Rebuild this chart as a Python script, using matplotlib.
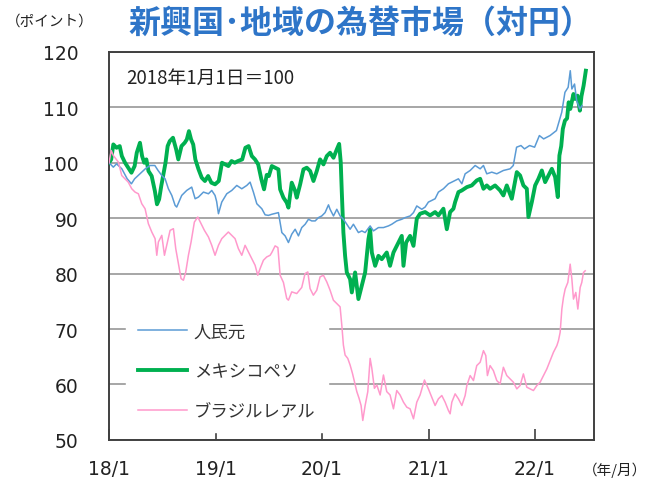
import numpy as np
import matplotlib
matplotlib.use("Agg")
import matplotlib.pyplot as plt

plt.rcParams['font.family'] = ['Noto Sans CJK JP', 'DejaVu Sans']

# 人民元 (year, index)
cny_t = [2018.00, 2018.04, 2018.07, 2018.12, 2018.17, 2018.21, 2018.24, 2018.29, 2018.34, 2018.385,
         2018.43, 2018.46, 2018.495, 2018.526, 2018.557, 2018.589, 2018.62, 2018.635, 2018.682, 2018.729,
         2018.776, 2018.808, 2018.839, 2018.886, 2018.933, 2018.964, 2018.995, 2019.01, 2019.027, 2019.058,
         2019.105, 2019.152, 2019.199, 2019.246, 2019.293, 2019.324, 2019.355, 2019.387, 2019.434, 2019.465,
         2019.496, 2019.528, 2019.59, 2019.622, 2019.653, 2019.684, 2019.715, 2019.747, 2019.778, 2019.809,
         2019.841, 2019.872, 2019.903, 2019.935, 2019.966, 2019.997, 2020.028, 2020.06, 2020.075, 2020.107,
         2020.138, 2020.169, 2020.2, 2020.232, 2020.263, 2020.294, 2020.341, 2020.373, 2020.404, 2020.451,
         2020.482, 2020.529, 2020.576, 2020.623, 2020.654, 2020.701, 2020.748, 2020.78, 2020.827, 2020.858,
         2020.889, 2020.936, 2020.967, 2020.998, 2021.03, 2021.061, 2021.092, 2021.139, 2021.186, 2021.218,
         2021.249, 2021.28, 2021.312, 2021.343, 2021.39, 2021.437, 2021.484, 2021.515, 2021.546, 2021.593,
         2021.64, 2021.702, 2021.765, 2021.795, 2021.826, 2021.867, 2021.90, 2021.948, 2021.995, 2022.04,
         2022.08, 2022.14, 2022.20, 2022.25, 2022.28, 2022.31, 2022.33, 2022.345, 2022.37, 2022.39,
         2022.42, 2022.44]
cny_v = [100.0, 99.2, 99.8, 98.9, 97.1, 96.2, 97.1, 98.0, 98.9, 99.5,
         99.5, 98.6, 97.7, 97.1, 95.3, 94.1, 92.3, 92.0, 94.1, 95.0,
         95.6, 93.5, 93.8, 94.7, 94.4, 95.0, 94.1, 93.0, 90.8, 92.9,
         94.4, 95.0, 95.9, 95.3, 95.9, 96.5, 94.7, 92.6, 91.7, 90.6,
         90.5, 90.7, 91.0, 87.4, 86.8, 85.6, 87.1, 88.0, 86.8, 88.3,
         88.9, 89.8, 89.5, 89.5, 90.1, 90.4, 91.0, 92.4, 91.6, 90.4,
         91.6, 90.4, 89.8, 88.9, 88.0, 88.9, 87.4, 87.7, 87.4, 88.6,
         87.7, 88.3, 88.3, 88.6, 88.9, 89.5, 89.8, 90.1, 90.4, 91.0,
         92.2, 91.6, 92.0, 92.9, 93.2, 93.5, 94.7, 95.3, 96.2, 96.5,
         96.8, 97.1, 96.2, 98.0, 98.6, 99.5, 98.9, 99.5, 98.0, 98.3,
         98.0, 98.6, 98.9, 99.5, 102.8, 103.1, 102.5, 103.1, 102.8, 104.9,
         104.3, 104.9, 105.8, 109.1, 112.7, 113.6, 116.6, 113.3, 114.2, 111.2,
         109.7, 110.3]

# メキシコペソ
mxn_t = [2018.00, 2018.02, 2018.04, 2018.07, 2018.10, 2018.12, 2018.15, 2018.18, 2018.21, 2018.24,
         2018.26, 2018.29, 2018.31, 2018.33, 2018.35, 2018.37, 2018.40, 2018.43, 2018.45, 2018.47,
         2018.49, 2018.53, 2018.55, 2018.57, 2018.60, 2018.63, 2018.65, 2018.68, 2018.71, 2018.73,
         2018.75, 2018.77, 2018.79, 2018.81, 2018.84, 2018.87, 2018.90, 2018.93, 2018.96, 2018.995,
         2019.03, 2019.06, 2019.09, 2019.12, 2019.15, 2019.18, 2019.21, 2019.25, 2019.28, 2019.31,
         2019.34, 2019.37, 2019.40, 2019.43, 2019.455, 2019.48, 2019.50, 2019.528, 2019.559, 2019.59,
         2019.606, 2019.637, 2019.668, 2019.684, 2019.715, 2019.747, 2019.762, 2019.794, 2019.825, 2019.856,
         2019.888, 2019.919, 2019.95, 2019.981, 2020.013, 2020.044, 2020.075, 2020.107, 2020.138, 2020.16,
         2020.175, 2020.185, 2020.20, 2020.216, 2020.232, 2020.263, 2020.279, 2020.31, 2020.341, 2020.373,
         2020.404, 2020.435, 2020.451, 2020.467, 2020.498, 2020.529, 2020.56, 2020.607, 2020.638, 2020.67,
         2020.717, 2020.748, 2020.764, 2020.789, 2020.826, 2020.858, 2020.889, 2020.92, 2020.967, 2021.014,
         2021.061, 2021.092, 2021.139, 2021.171, 2021.202, 2021.233, 2021.249, 2021.28, 2021.312, 2021.359,
         2021.405, 2021.452, 2021.484, 2021.515, 2021.546, 2021.577, 2021.624, 2021.671, 2021.702, 2021.734,
         2021.781, 2021.828, 2021.859, 2021.89, 2021.922, 2021.937, 2021.969, 2022.0, 2022.031, 2022.063,
         2022.094, 2022.125, 2022.157, 2022.188, 2022.213, 2022.228, 2022.245, 2022.26, 2022.28, 2022.30,
         2022.315, 2022.33, 2022.36, 2022.376, 2022.398, 2022.42, 2022.435, 2022.455, 2022.476]
mxn_v = [100.0, 100.6, 103.3, 102.7, 103.0, 101.2, 100.0, 99.1, 98.2, 99.4,
         101.8, 103.6, 101.2, 100.0, 100.6, 98.5, 97.6, 94.9, 92.5, 93.4,
         95.8, 100.0, 103.0, 103.9, 104.5, 102.4, 100.6, 103.0, 103.6, 104.2,
         105.7, 104.2, 103.3, 100.6, 98.8, 97.3, 96.7, 97.6, 96.4, 96.1,
         96.7, 100.0, 99.7, 99.4, 100.3, 100.0, 100.3, 100.6, 102.7, 103.0,
         101.2, 100.6, 99.7, 97.0, 95.2, 97.8, 97.6, 99.4, 99.1, 98.8,
         95.2, 93.7, 92.8, 91.9, 96.4, 94.9, 93.7, 96.1, 98.8, 99.1,
         98.5, 96.7, 98.5, 100.6, 99.7, 101.2, 101.8, 100.9, 102.4, 103.4,
         100.1, 94.7, 87.4, 83.2, 80.2, 79.0, 76.6, 80.2, 75.4, 77.8,
         80.2, 86.2, 88.0, 83.8, 81.4, 83.2, 82.6, 83.8, 81.4, 83.8,
         85.6, 86.8, 81.4, 85.6, 86.8, 85.0, 89.9, 90.8, 91.1, 90.5,
         91.1, 90.5, 91.7, 88.0, 91.1, 91.7, 92.9, 94.7, 95.0, 95.6,
         95.9, 96.8, 97.1, 95.3, 95.9, 95.3, 95.9, 95.0, 94.1, 95.9,
         93.5, 98.3, 97.7, 95.9, 95.3, 90.2, 92.9, 95.9, 97.1, 98.6,
         96.5, 97.7, 98.9, 97.4, 93.8, 101.3, 103.0, 106.1, 107.6, 108.0,
         110.9, 109.7, 112.4, 111.5, 112.1, 109.4, 112.0, 113.9, 116.6]

# ブラジルレアル
brl_t = [2018.00, 2018.02, 2018.04, 2018.088, 2018.119, 2018.15, 2018.18, 2018.213, 2018.244, 2018.275,
         2018.307, 2018.338, 2018.369, 2018.401, 2018.432, 2018.448, 2018.463, 2018.495, 2018.52, 2018.541,
         2018.573, 2018.604, 2018.626, 2018.651, 2018.676, 2018.698, 2018.72, 2018.745, 2018.77, 2018.801,
         2018.833, 2018.864, 2018.895, 2018.933, 2018.964, 2018.995, 2019.027, 2019.058, 2019.089, 2019.12,
         2019.152, 2019.183, 2019.214, 2019.246, 2019.277, 2019.308, 2019.34, 2019.371, 2019.396, 2019.418,
         2019.449, 2019.48, 2019.512, 2019.528, 2019.559, 2019.585, 2019.606, 2019.637, 2019.668, 2019.684,
         2019.715, 2019.762, 2019.809, 2019.84, 2019.866, 2019.887, 2019.918, 2019.95, 2019.981, 2020.012,
         2020.044, 2020.075, 2020.106, 2020.138, 2020.169, 2020.185, 2020.2, 2020.216, 2020.241, 2020.263,
         2020.285, 2020.304, 2020.326, 2020.347, 2020.366, 2020.382, 2020.404, 2020.429, 2020.451, 2020.467,
         2020.491, 2020.514, 2020.545, 2020.576, 2020.607, 2020.638, 2020.67, 2020.701, 2020.732, 2020.764,
         2020.795, 2020.826, 2020.858, 2020.889, 2020.92, 2020.961, 2020.998, 2021.03, 2021.061, 2021.092,
         2021.124, 2021.155, 2021.186, 2021.202, 2021.218, 2021.249, 2021.28, 2021.312, 2021.343, 2021.359,
         2021.39, 2021.421, 2021.452, 2021.484, 2021.515, 2021.537, 2021.552, 2021.577, 2021.608, 2021.64,
         2021.671, 2021.702, 2021.734, 2021.765, 2021.796, 2021.828, 2021.859, 2021.89, 2021.922, 2021.953,
         2021.984, 2022.016, 2022.047, 2022.078, 2022.11, 2022.141, 2022.172, 2022.204, 2022.219, 2022.235,
         2022.251, 2022.266, 2022.282, 2022.307, 2022.329, 2022.345, 2022.36, 2022.382, 2022.401, 2022.423,
         2022.438, 2022.454, 2022.47]
brl_v = [100.0, 102.2, 101.3, 100.1, 97.7, 97.1, 96.5, 95.3, 94.7, 94.4,
         92.6, 91.7, 89.0, 87.5, 86.3, 83.3, 85.7, 86.9, 83.3, 85.1,
         87.8, 88.1, 84.5, 81.8, 79.1, 78.8, 80.3, 83.3, 85.7, 89.3,
         90.2, 89.0, 87.8, 86.6, 85.1, 83.3, 85.1, 86.3, 86.9, 87.5,
         86.9, 86.3, 84.5, 83.3, 85.1, 83.9, 82.7, 81.5, 79.7, 80.9,
         82.4, 83.0, 83.3, 83.8, 85.0, 84.7, 79.7, 78.4, 75.5, 75.2,
         76.7, 76.4, 77.5, 80.0, 80.3, 77.3, 76.1, 77.0, 79.4, 79.7,
         78.5, 77.0, 75.2, 74.6, 74.0, 70.7, 67.1, 65.3, 64.7, 63.5,
         62.0, 60.5, 58.7, 57.5, 56.2, 53.5, 56.2, 58.7, 64.7, 62.9,
         59.3, 59.9, 58.1, 61.7, 58.7, 58.1, 55.6, 58.9, 58.1, 56.8,
         55.9, 55.6, 53.8, 56.8, 58.1, 60.8, 59.2, 57.7, 56.2, 57.4,
         58.0, 56.8, 55.3, 54.7, 56.8, 58.3, 57.4, 56.2, 58.0, 59.8,
         61.6, 60.7, 63.4, 64.0, 66.1, 65.2, 61.6, 63.4, 62.5, 60.7,
         60.1, 63.1, 61.6, 61.0, 60.4, 59.2, 59.8, 61.9, 59.5, 59.2,
         58.9, 59.8, 60.4, 61.6, 62.8, 64.3, 65.8, 67.0, 67.9, 69.4,
         73.6, 75.7, 77.2, 78.4, 81.7, 79.0, 75.4, 76.6, 73.6, 77.5,
         78.4, 80.2, 80.5]

labels = ['人民元', 'メキシコペソ', 'ブラジルレアル']
colors = ['#5B9BD5', '#00B050', '#FF99CC']
yticks = [50, 60, 70, 80, 90, 100, 110, 120]
xticks = [2018, 2019, 2020, 2021, 2022]
xticklabels = ['18/1', '19/1', '20/1', '21/1', '22/1']

fig = plt.figure(figsize=(6.61, 4.85), dpi=100)
ax = fig.add_axes([0.165, 0.091, 0.734, 0.8])

l2, = ax.plot(mxn_t, mxn_v, color=colors[1], lw=2.8, zorder=3)
l1, = ax.plot(cny_t, cny_v, color=colors[0], lw=1.1, zorder=4)
l3, = ax.plot(brl_t, brl_v, color=colors[2], lw=1.1, zorder=4)

ax.set_xlim(2018, 2022.555)
ax.set_ylim(50, 120)
ax.set_yticks(yticks)
ax.set_yticklabels([str(v) for v in yticks], family='DejaVu Sans', fontsize=13.5, color='#222222')
ax.set_xticks(xticks)
ax.set_xticklabels(xticklabels, family='DejaVu Sans', fontsize=13.5, color='#222222')
ax.tick_params(axis='y', length=0, pad=22)
ax.tick_params(axis='x', direction='in', length=8, width=1.2, color='#404040', pad=14)
ax.grid(axis='y', color='#A6A6A6', lw=1.4)
ax.set_axisbelow(True)
for s in ax.spines.values():
    s.set_color('#404040')
    s.set_linewidth(1.4)

leg = ax.legend([l1, l2, l3], labels, loc='lower left', bbox_to_anchor=(0.035, 0.02),
                fontsize=12.5, handlelength=2.8, handletextpad=0.4, labelspacing=1.25,
                borderpad=0.7, borderaxespad=0.0,
                frameon=True, fancybox=False, framealpha=1, edgecolor='white', facecolor='white')
leg.set_zorder(2)
for t in leg.get_texts():
    t.set_color('#333333')

ax.text(0.035, 0.933, '2018年1月1日＝100', transform=ax.transAxes, fontsize=13.5,
        va='center', ha='left', color='#222222')

fig.text(0.545, 0.952, '新興国･地域の為替市場（対円）', ha='center', va='center',
         fontsize=23, fontweight='bold', color='#2E75C8')
fig.text(0.075, 0.955, '（ポイント）', ha='center', va='center', fontsize=10.5, color='#222222')
fig.text(0.93, 0.015, '（年/月）', ha='center', va='bottom', fontsize=10.5, color='#222222')

fig.savefig('out.png', dpi=100)
